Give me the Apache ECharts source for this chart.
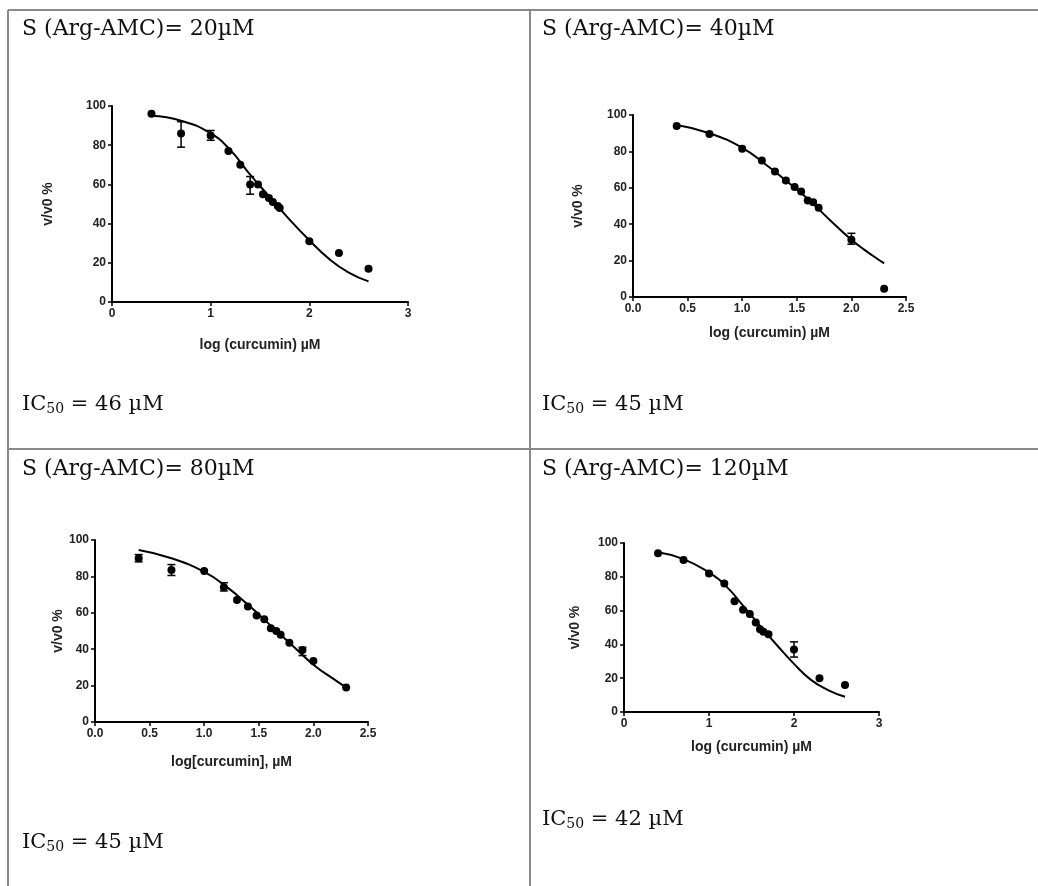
<!DOCTYPE html>
<html>
<head>
<meta charset="utf-8">
<title>IC50 curcumin</title>
<script src="https://cdn.jsdelivr.net/npm/echarts@6/dist/echarts.min.js"></script>
<style>
    html, body { margin: 0; padding: 0; background: #fff; }
    .box { width: 1038px; height: 886px; }
</style>
</head>
<body>
<div class="box" id="main"></div>
<script>
// 数据 - 每个小图: 散点, 误差线, 拟合曲线
var p1X = [0.4, 0.7, 1.0, 1.18, 1.3, 1.4, 1.48, 1.53, 1.59, 1.63, 1.68, 1.7, 2.0, 2.3, 2.6]
var p1Y = [96, 86, 85, 77, 70, 60, 60, 55, 53, 51, 49, 48, 31, 25, 17]
var p1Err = [[0.7, 79, 92], [1.0, 82.5, 87.5], [1.4, 55, 64]]
var p1FitX = [0.4, 0.7, 1.0, 1.2, 1.4, 1.6, 1.8, 2.0, 2.2, 2.4, 2.6]
var p1FitY = [95, 92.5, 86, 77.5, 65, 53.5, 42, 31.5, 22, 15, 10.5]

var p2X = [0.4, 0.7, 1.0, 1.18, 1.3, 1.4, 1.48, 1.54, 1.6, 1.65, 1.7, 2.0, 2.3]
var p2Y = [94, 89.5, 81.5, 75, 69, 64, 60.5, 58, 53, 52, 49, 31.5, 4.5]
var p2Err = [[2.0, 29, 35]]
var p2FitX = [0.4, 0.7, 1.0, 1.2, 1.4, 1.6, 1.8, 2.0, 2.2, 2.3]
var p2FitY = [94.5, 90, 82, 73.5, 64, 54, 42.5, 31.5, 22.5, 18.5]

var p3X = [0.4, 0.7, 1.0, 1.18, 1.3, 1.4, 1.48, 1.55, 1.61, 1.66, 1.7, 1.78, 1.9, 2.0, 2.3]
var p3Y = [90, 83.5, 83, 74, 67, 63.5, 58.5, 56.5, 51.5, 50, 48, 43.5, 39.5, 33.5, 19]
var p3Err = [[0.4, 88, 92], [0.7, 80.5, 86.5], [1.18, 72, 76.5], [1.9, 36.5, 41]]
var p3FitX = [0.4, 0.7, 1.0, 1.2, 1.4, 1.6, 1.8, 2.0, 2.2, 2.3]
var p3FitY = [94.5, 90, 82.5, 74.5, 64.5, 53.5, 42.5, 31.5, 23, 19]

var p4X = [0.4, 0.7, 1.0, 1.18, 1.3, 1.4, 1.48, 1.55, 1.6, 1.64, 1.7, 2.0, 2.3, 2.6]
var p4Y = [94, 90, 82, 76, 65.5, 60.5, 58, 53, 49, 47.5, 46, 37, 20, 16]
var p4Err = [[2.0, 32.5, 41.5]]
var p4FitX = [0.4, 0.7, 1.0, 1.2, 1.4, 1.6, 1.8, 2.0, 2.2, 2.4, 2.6]
var p4FitY = [94.5, 90.5, 82.5, 74.5, 63, 51, 39.5, 28.5, 19, 13, 9]

// 文字
var titles = ['S (Arg-AMC)= 20µM', 'S (Arg-AMC)= 40µM', 'S (Arg-AMC)= 80µM', 'S (Arg-AMC)= 120µM']
var ic50 = ['46', '45', '45', '42']
var xNames = ['log (curcumin) µM', 'log (curcumin) µM', 'log[curcumin], µM', 'log (curcumin) µM']
var yName = 'v/v0 %'
var xMax = [3, 2.5, 2.5, 3]
var xStep = [1, 0.5, 0.5, 1]

var myChart = echarts.init(document.getElementById('main'))

// 两列数组合成点
function zip(xs, ys) {
    var out = []
    for (var i = 0; i < xs.length; i++) out.push([xs[i], ys[i]])
    return out
}

// 误差线
function errBar(params, api) {
    var x = api.value(0)
    var top = api.coord([x, api.value(2)])
    var bot = api.coord([x, api.value(1)])
    var w = 4
    var st = { stroke: '#000', lineWidth: 1.5 }
    return {
        type: 'group',
        children: [
            { type: 'line', shape: { x1: top[0], y1: top[1], x2: bot[0], y2: bot[1] }, style: st },
            { type: 'line', shape: { x1: top[0] - w, y1: top[1], x2: top[0] + w, y2: top[1] }, style: st },
            { type: 'line', shape: { x1: bot[0] - w, y1: bot[1], x2: bot[0] + w, y2: bot[1] }, style: st }
        ]
    }
}

var panels = [
    { pts: zip(p1X, p1Y), err: p1Err, fit: zip(p1FitX, p1FitY) },
    { pts: zip(p2X, p2Y), err: p2Err, fit: zip(p2FitX, p2FitY) },
    { pts: zip(p3X, p3Y), err: p3Err, fit: zip(p3FitX, p3FitY) },
    { pts: zip(p4X, p4Y), err: p4Err, fit: zip(p4FitX, p4FitY) }
]

// 网格位置
var grids = [
    { left: 112, top: 106, width: 296, height: 196 },
    { left: 633, top: 115, width: 273, height: 182 },
    { left: 95, top: 540, width: 273, height: 182 },
    { left: 624, top: 543, width: 255, height: 169 }
]
var yGap = [57, 48, 30, 42]
var xGap = [36, 29, 33, 28]

var axisFont = 'Liberation Sans'
var xAxis = [], yAxis = [], series = []
for (var i = 0; i < 4; i++) {
    xAxis.push({
        type: 'value',
        gridIndex: i,
        min: 0,
        max: xMax[i],
        interval: xStep[i],
        name: xNames[i],
        nameLocation: 'middle',
        nameGap: xGap[i],
        nameTextStyle: { fontFamily: axisFont, fontWeight: 'bold', fontSize: 14, color: '#222' },
        splitLine: { show: false },
        axisLine: { onZero: false, lineStyle: { color: '#000', width: 2 } },
        axisTick: { length: 4, lineStyle: { color: '#000', width: 1.5 } },
        axisLabel: {
            margin: 6,
            fontFamily: axisFont, fontWeight: 'bold', fontSize: 12, color: '#222',
            formatter: (function(step) {
                return function(v) { return step < 1 ? v.toFixed(1) : String(v) }
            })(xStep[i])
        }
    })
    yAxis.push({
        type: 'value',
        gridIndex: i,
        min: 0,
        max: 100,
        interval: 20,
        name: yName,
        nameLocation: 'middle',
        nameGap: yGap[i],
        nameTextStyle: { fontFamily: axisFont, fontWeight: 'bold', fontSize: 14, color: '#222' },
        splitLine: { show: false },
        axisLine: { show: true, onZero: false, lineStyle: { color: '#000', width: 2 } },
        axisTick: { show: true, length: 4, lineStyle: { color: '#000', width: 1.5 } },
        axisLabel: { margin: 6, fontFamily: axisFont, fontWeight: 'bold', fontSize: 12, color: '#222' }
    })
    // 拟合曲线
    series.push({
        type: 'line',
        xAxisIndex: i,
        yAxisIndex: i,
        smooth: true,
        showSymbol: false,
        lineStyle: { color: '#000', width: 2 },
        data: panels[i].fit,
        silent: true
    })
    // 误差线
    series.push({
        type: 'custom',
        xAxisIndex: i,
        yAxisIndex: i,
        renderItem: errBar,
        encode: { x: 0, y: [1, 2] },
        data: panels[i].err,
        silent: true
    })
    // 散点
    series.push({
        type: 'scatter',
        xAxisIndex: i,
        yAxisIndex: i,
        symbolSize: 8,
        itemStyle: { color: '#000', opacity: 1 },
        data: panels[i].pts
    })
}

// 表格线 和 文字
var lineSt = { stroke: '#8a8a8a', lineWidth: 2 }
var serif = 'DejaVu Serif'
var titlePos = [[22, 29], [542, 29], [22, 469], [542, 469]]
var icPos = [[22, 405], [542, 405], [22, 843], [542, 820]]
var graphic = [
    { type: 'line', shape: { x1: 8, y1: 10, x2: 1038, y2: 10 }, style: lineSt },
    { type: 'line', shape: { x1: 8, y1: 449, x2: 1038, y2: 449 }, style: lineSt },
    { type: 'line', shape: { x1: 8, y1: 10, x2: 8, y2: 886 }, style: lineSt },
    { type: 'line', shape: { x1: 530, y1: 10, x2: 530, y2: 886 }, style: lineSt }
]
for (var j = 0; j < 4; j++) {
    graphic.push({
        type: 'text',
        x: titlePos[j][0],
        y: titlePos[j][1],
        style: {
            text: titles[j],
            font: '22px "' + serif + '"',
            fill: '#111',
            verticalAlign: 'middle'
        }
    })
    graphic.push({
        type: 'text',
        x: icPos[j][0],
        y: icPos[j][1],
        style: {
            text: '{a|IC}{b|50}{a| = ' + ic50[j] + ' µM}',
            verticalAlign: 'middle',
            rich: {
                a: { fontFamily: serif, fontSize: 21, fill: '#111' },
                b: { fontFamily: serif, fontSize: 14, fill: '#111', padding: [9, 0, 0, 0] }
            }
        }
    })
}

var option = {
    animation: false,
    backgroundColor: '#fff',
    grid: grids,
    xAxis: xAxis,
    yAxis: yAxis,
    series: series,
    graphic: graphic
}
myChart.setOption(option)
</script>
</body>
</html>
